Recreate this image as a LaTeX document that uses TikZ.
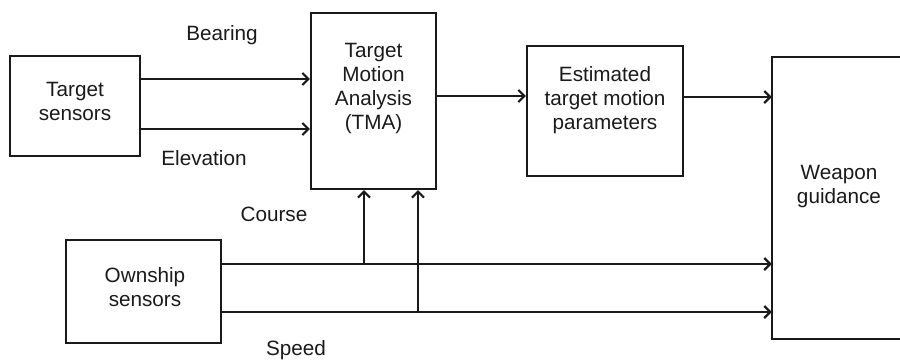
\documentclass[tikz,border=0pt]{standalone}
\usepackage{fontspec}
\setmainfont{Liberation Sans}
\usetikzlibrary{arrows.meta}
\definecolor{ink}{HTML}{1A1A1A}
\begin{document}
\begin{tikzpicture}[x=1pt,y=-1pt,
  box/.style={draw=ink, line width=2.2pt, inner sep=0pt},
  txt/.style={text=ink, font=\fontsize{20.7}{24}\selectfont, align=center, inner sep=0pt},
  conn/.style={draw=ink, line width=2.2pt, -{Straight Barb[length=6pt,width=12pt]}},
  wire/.style={draw=ink, line width=2.2pt}]
\useasboundingbox (0,0) rectangle (900,360);
% boxes
\node[box, minimum width=130pt, minimum height=100pt] (ts) at (75,106) {};
\node[txt] (tst) at (75,101) {Target\\sensors};
\node[box, minimum width=125pt, minimum height=176pt] (tma) at (373.5,101) {};
\node[txt] (tmat) at (373.5,89) {Target\\Motion\\Analysis\\(TMA)};
\node[box, minimum width=156pt, minimum height=130pt] (est) at (605,111) {};
\node[txt] (estt) at (605,100) {Estimated\\target motion\\parameters};
\node[box, minimum width=155pt, minimum height=103pt] (os) at (143.5,291.5) {};
\node[txt] (ost) at (145,287.5) {Ownship\\sensors};
\node[minimum width=128pt, minimum height=282pt, inner sep=0pt] (wg) at (836,198) {};
\draw[wire] (wg.north east) -- (wg.north west) -- (wg.south west) -- (wg.south east);
\node[txt] (wgt) at (839,187) {Weapon\\guidance};
% labels
\node[txt] (lb) at (222,35) {Bearing};
\node[txt] (le) at (204,158) {Elevation};
\node[txt] (lc) at (274,214) {Course};
\node[txt] (ls) at (296,350) {Speed};
% helper coordinates
\coordinate (yb) at (0,79);
\coordinate (ye) at (0,129);
\coordinate (yt) at (0,96);
\coordinate (yw) at (0,97);
\coordinate (yc) at (0,264);
\coordinate (ys) at (0,312);
\coordinate (xc) at (364,0);
\coordinate (xs) at (418,0);
\coordinate (jc) at (364,264);
\coordinate (js) at (418,312);
% connectors
\draw[conn] (ts.east |- yb) -- (tma.west |- yb);
\draw[conn] (ts.east |- ye) -- (tma.west |- ye);
\draw[conn] (tma.east |- yt) -- (est.west |- yt);
\draw[conn] (est.east |- yw) -- (wg.west |- yw);
\draw[conn] (os.east |- yc) -- (wg.west |- yc);
\draw[conn] (os.east |- ys) -- (wg.west |- ys);
\draw[conn] (jc) -- (tma.south -| xc);
\draw[conn] (js) -- (tma.south -| xs);
\end{tikzpicture}
\end{document}
